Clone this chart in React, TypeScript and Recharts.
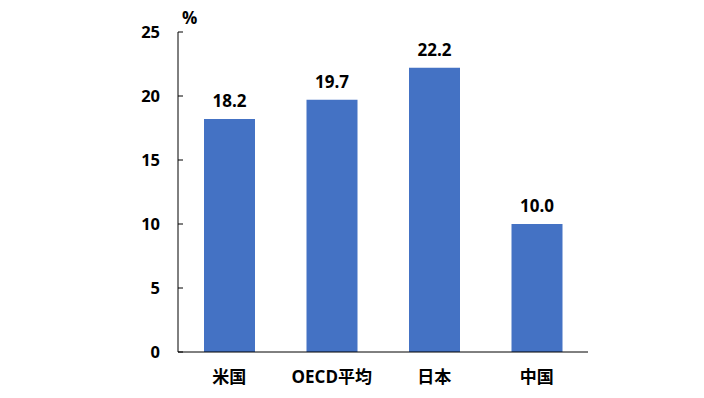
import React from "react";
import { BarChart, Bar, XAxis, YAxis, LabelList, Label } from "recharts";

const categories = ["米国", "OECD平均", "日本", "中国"];
const values = [18.2, 19.7, 22.2, 10.0];
const yTicks = [0, 5, 10, 15, 20, 25];

const data = categories.map((name, i) => ({ name, value: values[i] }));

const FONT = "'Open Sans', 'Noto Sans CJK JP', sans-serif";

const YTick = (props: any) => {
  const { x, y, payload } = props;
  return (
    <g>
      <line x1={x} y1={y} x2={x + 5} y2={y} stroke="#000" strokeWidth={1} />
      <text
        x={x - 18}
        y={y}
        dy="0.36em"
        textAnchor="end"
        fontFamily={FONT}
        fontWeight={700}
        fontSize={16.5}
        fill="#000"
      >
        {payload.value}
      </text>
    </g>
  );
};

const XTick = (props: any) => {
  const { x, y, payload } = props;
  return (
    <text
      x={x}
      y={y}
      dy="0.75em"
      textAnchor="middle"
      fontFamily={FONT}
      fontWeight={700}
      fontSize={17}
      fill="#000"
    >
      {payload.value}
    </text>
  );
};

export default function App() {
  return (
    <div style={{ position: "absolute", left: 0, top: 0, background: "#fff" }}>
      <BarChart
        width={704}
        height={398}
        data={data}
        margin={{ top: 32, right: 116, bottom: 16, left: 0 }}
      >
        <YAxis
          width={178}
          domain={[0, 25]}
          ticks={yTicks}
          interval={0}
          tickLine={false}
          tickSize={0}
          tickMargin={0}
          axisLine={{ stroke: "#000", strokeWidth: 1 }}
          tick={<YTick />}
        >
          <Label
            content={(p: any) => {
              const vb = p.viewBox || {};
              return (
                <text
                  x={(vb.x || 0) + (vb.width || 0) + 4}
                  y={(vb.y || 0) - 8}
                  fontFamily={FONT}
                  fontWeight={700}
                  fontSize={17}
                  fill="#000"
                >
                  %
                </text>
              );
            }}
          />
        </YAxis>
        <XAxis
          dataKey="name"
          height={30}
          tickLine={false}
          tickSize={0}
          tickMargin={18}
          interval={0}
          axisLine={{ stroke: "#000", strokeWidth: 1 }}
          tick={<XTick />}
        />
        <Bar dataKey="value" fill="#4472C4" barSize={51} isAnimationActive={false}>
          <LabelList
            dataKey="value"
            position="top"
            offset={12}
            formatter={(v: any) => Number(v).toFixed(1)}
            fontFamily={FONT}
            fontWeight={700}
            fontSize={17}
            fill="#000"
          />
        </Bar>
      </BarChart>
    </div>
  );
}
